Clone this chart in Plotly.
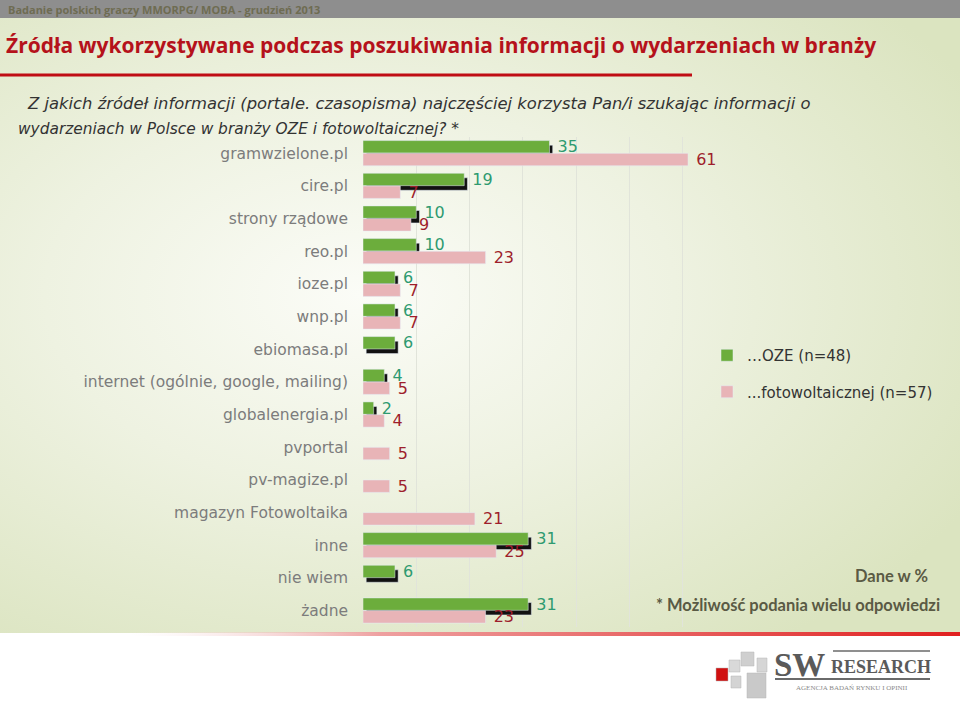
import base64

import plotly.graph_objs as go

# data (values in %)
categories = [
    "gramwzielone.pl", "cire.pl", "strony rządowe", "reo.pl", "ioze.pl", "wnp.pl",
    "ebiomasa.pl", "internet (ogólnie, google, mailing)", "globalenergia.pl",
    "pvportal", "pv-magize.pl", "magazyn Fotowoltaika", "inne", "nie wiem", "żadne",
]
oze = [35, 19, 10, 10, 6, 6, 6, 4, 2, None, None, None, 31, 6, 31]
foto = [61, 7, 9, 23, 7, 7, None, 5, 4, 5, 5, 21, 25, None, 23]
series_names = ["…OZE (n=48)", "...fotowoltaicznej (n=57)"]

W, H = 960, 715
L, R, T, B = 363, 224, 137, 88
PW, PH = W - L - R, H - T - B


def px(x):
    return (x - L) / PW


def py(y):
    return 1 - (y - T) / PH


def svg_uri(svg):
    return "data:image/svg+xml;base64," + base64.b64encode(svg.encode()).decode()


def labels(vals):
    return ["\u00a0" + str(v) if v is not None else "" for v in vals]


bg_svg = (
    '<svg xmlns="http://www.w3.org/2000/svg" width="1000" height="615" preserveAspectRatio="none">'
    '<defs><radialGradient id="g" cx="38%" cy="45%" r="70%">'
    '<stop offset="0" stop-color="#fbfcf7"/><stop offset="0.45" stop-color="#eef2e1"/>'
    '<stop offset="1" stop-color="#dbe4c0"/></radialGradient></defs>'
    '<rect width="1000" height="615" fill="url(#g)"/></svg>'
)
line_svg = (
    '<svg xmlns="http://www.w3.org/2000/svg" width="1000" height="4" preserveAspectRatio="none">'
    '<defs><linearGradient id="l" x1="0" x2="1">'
    '<stop offset="0.15" stop-color="#f6e4e4" stop-opacity="0"/>'
    '<stop offset="0.4" stop-color="#eea0a0"/><stop offset="1" stop-color="#e01b1b"/>'
    '</linearGradient></defs><rect width="1000" height="4" fill="url(#l)"/></svg>'
)

fig = go.Figure()

# shadow behind the green bars
fig.add_bar(
    y=categories, x=oze, base=0.6, orientation="h", offset=-0.25, width=0.38,
    marker=dict(color="#111111"), showlegend=False, hoverinfo="skip",
)
fig.add_bar(
    y=categories, x=oze, orientation="h", offset=-0.39, width=0.38, name=series_names[0],
    legendgroup="a", marker=dict(color="#6cad3c"),
    text=labels(oze), textposition="outside",
    textfont=dict(color="#2e9a70", size=16, family="DejaVu Sans"), constraintext="none",
    cliponaxis=False,
)
fig.add_bar(
    y=categories, x=foto, orientation="h", offset=0.0, width=0.38, name=series_names[1],
    legendgroup="b", marker=dict(color="#e8b4b7"),
    text=labels(foto), textposition="outside",
    textfont=dict(color="#9e1f2c", size=16, family="DejaVu Sans"), constraintext="none",
    cliponaxis=False,
)

fig.update_layout(
    width=W, height=H,
    margin=dict(l=L, r=R, t=T, b=B),
    barmode="overlay",
    paper_bgcolor="white",
    plot_bgcolor="rgba(0,0,0,0)",
    font=dict(family="DejaVu Sans", color="#333333"),
    xaxis=dict(range=[0, 70], dtick=10, showticklabels=False, showgrid=True,
               gridcolor="#e1e4da", zeroline=False, fixedrange=True),
    yaxis=dict(type="category", autorange="reversed", showgrid=False, ticks="",
               ticklabelstandoff=14, tickfont=dict(size=15.5, color="#7c7c7c")),
    legend=dict(x=px(707), y=py(339), xanchor="left", yanchor="top",
                font=dict(size=15, color="#333333"), bgcolor="rgba(0,0,0,0)",
                tracegroupgap=14, itemclick=False),
    showlegend=True,
)

fig.add_layout_image(
    source=svg_uri(bg_svg), xref="paper", yref="paper", x=px(-20), y=py(18),
    sizex=1000 / PW, sizey=615 / PH, xanchor="left", yanchor="top",
    sizing="stretch", layer="below",
)
fig.add_layout_image(
    source=svg_uri(line_svg), xref="paper", yref="paper", x=px(-20), y=py(632),
    sizex=1000 / PW, sizey=4 / PH, xanchor="left", yanchor="top",
    sizing="stretch", layer="below",
)

# header band and title underline
fig.add_shape(type="rect", xref="paper", yref="paper", x0=px(-20), x1=px(W + 20), y0=py(-5), y1=py(18),
              fillcolor="#8e8e8e", line_width=0, layer="below")
fig.add_shape(type="line", xref="paper", yref="paper", x0=px(-20), x1=px(692), y0=py(75), y1=py(75),
              line=dict(color="#c00d14", width=3))

# logo squares
for x0, y0, x1, y1, c in [
    (729, 660, 740, 672, "#d9d9d9"), (741, 652, 754, 666, "#cfcfcf"), (757, 658, 767, 672, "#d6d6d6"),
    (716, 668, 728, 681, "#d01010"), (731, 676, 741, 688, "#d4d4d4"), (747, 673, 766, 698, "#c9c9c9"),
]:
    fig.add_shape(type="rect", xref="paper", yref="paper", x0=px(x0), x1=px(x1), y0=py(y0), y1=py(y1),
                  fillcolor=c, line=dict(color="#b5b5b5", width=0.5))
fig.add_shape(type="line", xref="paper", yref="paper", x0=px(775), x1=px(930), y0=py(679), y1=py(679),
              line=dict(color="#6a6a6a", width=2))
fig.add_shape(type="line", xref="paper", yref="paper", x0=px(833), x1=px(930), y0=py(651), y1=py(651),
              line=dict(color="#6a6a6a", width=1.5))


def note(xc, y, text, size, color, family="DejaVu Sans"):
    # centred on the reference text's middle, so font width differences stay balanced
    fig.add_annotation(x=px(xc), y=py(y), xref="paper", yref="paper", text=text, showarrow=False,
                       xanchor="center", yanchor="middle", font=dict(size=size, color=color, family=family))


note(164, 9, "<b>Badanie polskich graczy MMORPG/ MOBA - grudzień 2013</b>", 11, "#6e6c52", "Open Sans")
note(441, 45, "<b>Źródła wykorzystywane podczas poszukiwania informacji o wydarzeniach w branży</b>",
     21, "#b5121b", "Open Sans")
note(418, 103, "<i>Z jakich źródeł informacji (portale. czasopisma) najczęściej korzysta Pan/i szukając informacji o</i>",
     16.4, "#333333")
note(238, 129, "<i>wydarzeniach w Polsce w branży OZE i fotowoltaicznej? *</i>", 15.4, "#333333")
note(891, 576, "<b>Dane w %</b>", 16.5, "#5a5a44", "Lato")
note(798, 605, "<b>* Możliwość podania wielu odpowiedzi</b>", 16.5, "#5a5a44", "Lato")
note(799, 665, "<b>SW</b>", 33, "#5a5a5a", "Liberation Serif")
note(881, 667, "<b>RESEARCH</b>", 18, "#5a5a5a", "Liberation Serif")
note(852, 688, "AGENCJA BADAŃ RYNKU I OPINII", 7, "#8a8a8a", "Liberation Serif")

fig.write_html(
    "out.html",
    config={"displayModeBar": False},
    post_script="document.body.style.margin='0';document.body.style.overflow='hidden';",
)
